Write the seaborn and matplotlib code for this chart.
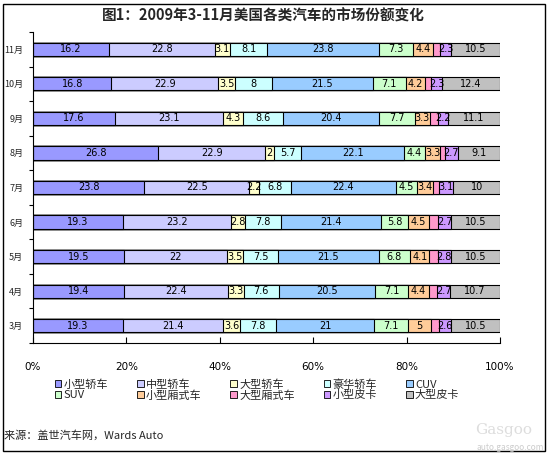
import matplotlib
matplotlib.use("Agg")
import matplotlib.pyplot as plt
import seaborn as sns
import numpy as np
import pandas as pd
from matplotlib.patches import Rectangle, Patch

months = ["11月", "10月", "9月", "8月", "7月", "6月", "5月", "4月", "3月"]
series_names = ["小型轿车", "中型轿车", "大型轿车", "豪华轿车", "CUV",
                "SUV", "小型厢式车", "大型厢式车", "小型皮卡", "大型皮卡"]
small_sedan = [16.2, 16.8, 17.6, 26.8, 23.8, 19.3, 19.5, 19.4, 19.3]
mid_sedan = [22.8, 22.9, 23.1, 22.9, 22.5, 23.2, 22.0, 22.4, 21.4]
large_sedan = [3.1, 3.5, 4.3, 2.0, 2.2, 2.8, 3.5, 3.3, 3.6]
luxury_sedan = [8.1, 8.0, 8.6, 5.7, 6.8, 7.8, 7.5, 7.6, 7.8]
cuv = [23.8, 21.5, 20.4, 22.1, 22.4, 21.4, 21.5, 20.5, 21.0]
suv = [7.3, 7.1, 7.7, 4.4, 4.5, 5.8, 6.8, 7.1, 7.1]
small_van = [4.4, 4.2, 3.3, 3.3, 3.4, 4.5, 4.1, 4.4, 5.0]
large_van = [1.5, 1.3, 1.7, 1.0, 1.3, 2.0, 1.8, 1.9, 1.7]
small_pickup = [2.3, 2.3, 2.2, 2.7, 3.1, 2.7, 2.8, 2.7, 2.6]
large_pickup = [10.5, 12.4, 11.1, 9.1, 10.0, 10.5, 10.5, 10.7, 10.5]

colors = ["#9999FF", "#CCCCFF", "#FFFFCC", "#CCFFFF", "#99CCFF",
          "#CCFFCC", "#FFCC99", "#FF99CC", "#CC99FF", "#C0C0C0"]
labeled = [True, True, True, True, True, True, True, False, True, True]

sns.set_theme(style="white")
plt.rcParams["font.family"] = ["Noto Sans CJK SC", "DejaVu Sans"]

values = np.array([small_sedan, mid_sedan, large_sedan, luxury_sedan, cuv,
                   suv, small_van, large_van, small_pickup, large_pickup])
shares = values / values.sum(axis=0) * 100
cum = np.cumsum(shares, axis=0)

fig = plt.figure(figsize=(5.48, 4.54), dpi=100)
ax = fig.add_axes([33/548, 1-343/454, 467/548, 311/454])

for i in range(len(series_names) - 1, -1, -1):
    df = pd.DataFrame({"month": months, "cum": cum[i]})
    sns.barplot(data=df, x="cum", y="month", orient="h", order=months,
                color=colors[i], edgecolor="black", linewidth=0.8,
                width=0.38, saturation=1, ax=ax)

for i in range(len(series_names)):
    if not labeled[i]:
        continue
    for j, m in enumerate(months):
        start = cum[i][j] - shares[i][j]
        cx = start + shares[i][j] / 2
        v = values[i][j]
        txt = f"{v:g}"
        ax.text(cx, j, txt, ha="center", va="center", fontsize=7,
                family="DejaVu Sans", color="black")

ax.set_xlim(0, 100)
ax.set_ylim(len(months) - 0.5, -0.5)
ax.set_xticks([0, 20, 40, 60, 80, 100])
ax.set_xticklabels(["0%", "20%", "40%", "60%", "80%", "100%"],
                   family="DejaVu Sans", fontsize=7.5)
ax.set_xlabel("")
ax.set_ylabel("")
ax.tick_params(axis="x", direction="in", length=4, width=0.8, pad=14,
               bottom=True, colors="black")
ax.set_yticks(range(len(months)))
ax.set_yticklabels(months, fontsize=6.5)
ax.tick_params(axis="y", which="major", length=0, pad=7)
ax.set_yticks(np.arange(-0.5, len(months), 1), minor=True)
ax.tick_params(axis="y", which="minor", direction="out", length=3, width=0.8,
               left=True, colors="black")
for s in ["top", "right"]:
    ax.spines[s].set_visible(False)
for s in ["left", "bottom"]:
    ax.spines[s].set_color("black")
    ax.spines[s].set_linewidth(0.8)
ax.grid(False)

fig.suptitle("图1：2009年3-11月美国各类汽车的市场份额变化", x=0.48, y=1-16/454,
             va="center", fontsize=10.5, fontweight="bold")

handles = [Patch(facecolor=c, edgecolor="black", linewidth=0.6) for c in colors]
order = [0, 5, 1, 6, 2, 7, 3, 8, 4, 9]
leg = fig.legend([handles[k] for k in order], [series_names[k] for k in order],
                 ncol=5, loc="center",
                 bbox_to_anchor=(257/548, 1-390/454), frameon=False,
                 fontsize=8, handlelength=0.6, handleheight=0.6,
                 handletextpad=0.2, columnspacing=2.6, labelspacing=0.05)

fig.text(4/548, 1-435/454, "来源：盖世汽车网，Wards Auto", fontsize=8,
         va="center", ha="left")
fig.text(532/548, 1-430/454, "Gasgoo", fontsize=11, color="#DDDDDD",
         ha="right", va="center", family="DejaVu Serif")
fig.text(544/548, 1-447/454, "auto.gasgoo.com", fontsize=6, color="#CCCCCC",
         ha="right", va="center")

fig.add_artist(Rectangle((3/548, 3/454), 542/548, 447/454, transform=fig.transFigure,
                         fill=False, edgecolor="black", linewidth=1.0))

fig.savefig("out.png", dpi=100)
